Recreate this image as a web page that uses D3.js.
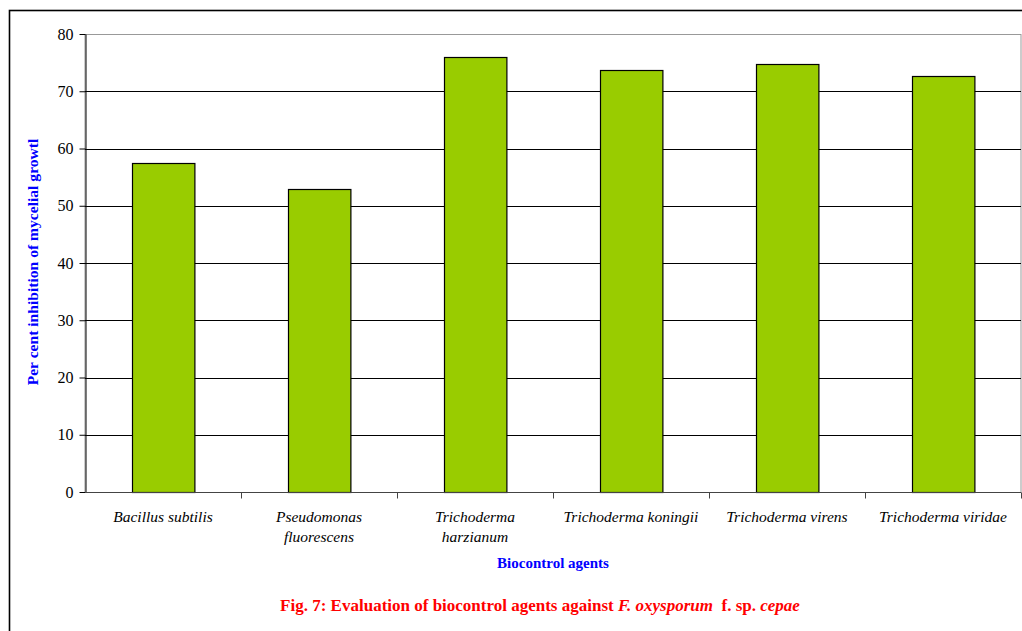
<!DOCTYPE html>
<html>
<head>
<meta charset="utf-8">
<script src="https://cdn.jsdelivr.net/npm/d3@7"></script>
<style>
  html, body { margin: 0; padding: 0; background: #fff; }
  svg { display: block; }
  svg text { font-family: "Liberation Serif", "Times New Roman", Times, "DejaVu Serif", serif; }
</style>
</head>
<body>
<svg id="chart" width="1022" height="631"></svg>
<script>
// Biocontrol agents tested and their per cent inhibition of mycelial growth
const agents = [
  ["Bacillus subtilis"],
  ["Pseudomonas", "fluorescens"],
  ["Trichoderma", "harzianum"],
  ["Trichoderma koningii"],
  ["Trichoderma virens"],
  ["Trichoderma viridae"]
];
const inhibition = [57.5, 52.9, 75.9, 73.7, 74.8, 72.7];
const yTicks = [0, 10, 20, 30, 40, 50, 60, 70, 80];

const svg = d3.select("#chart");
const plot = { left: 85, right: 1021, top: 34, bottom: 492 };

const keys = agents.map(a => a.join(" "));
const x = d3.scaleBand().domain(keys).range([plot.left, plot.right]).paddingInner(0.6).paddingOuter(0.3);
const xCat = d3.scaleBand().domain(keys).range([plot.left, plot.right]);
const y = d3.scaleLinear().domain([0, 80]).range([plot.bottom, plot.top]);

// outer frame
svg.append("rect")
  .attr("x", 9.5).attr("y", 10.5).attr("width", 1030).attr("height", 640)
  .attr("fill", "none").attr("stroke", "#000").attr("stroke-width", 1.6);

// plot frame
svg.append("rect")
  .attr("x", plot.left).attr("y", plot.top + 0.5)
  .attr("width", plot.right - plot.left).attr("height", plot.bottom - plot.top)
  .attr("fill", "none").attr("stroke", "#999").attr("stroke-width", 1);

// horizontal gridlines
svg.append("g").selectAll("line")
  .data(yTicks.filter(t => t > 0 && t < 80))
  .join("line")
  .attr("x1", plot.left).attr("x2", plot.right)
  .attr("y1", d => Math.round(y(d)) + 0.5).attr("y2", d => Math.round(y(d)) + 0.5)
  .attr("stroke", "#000").attr("stroke-width", 1);

// bars
svg.append("g").selectAll("rect")
  .data(inhibition)
  .join("rect")
  .attr("x", (d, i) => Math.round(x(keys[i])) + 0.5)
  .attr("y", d => Math.round(y(d)) + 0.5)
  .attr("width", x.bandwidth())
  .attr("height", d => plot.bottom - Math.round(y(d)))
  .attr("fill", "#99cc00")
  .attr("stroke", "#000").attr("stroke-width", 1.2);

// y axis
const yAxis = svg.append("g")
  .attr("transform", `translate(${plot.left + 0.5},0)`)
  .call(d3.axisLeft(y).tickValues(yTicks).tickSize(6).tickSizeOuter(0).tickPadding(6));
yAxis.attr("font-family", null);
yAxis.select(".domain").attr("stroke", "#000");
yAxis.selectAll(".tick line").attr("stroke", "#000");
yAxis.selectAll(".tick text").attr("font-size", 16).attr("fill", "#000");

// x axis: category separators
const xAxis = svg.append("g")
  .attr("transform", `translate(0,${plot.bottom + 0.5})`);
xAxis.append("line")
  .attr("x1", plot.left).attr("x2", plot.right)
  .attr("stroke", "#444").attr("stroke-width", 1.2);
xAxis.selectAll("line.sep")
  .data(keys.slice(1).concat([null]))
  .join("line").attr("class", "sep")
  .attr("x1", (d, i) => Math.round(i < keys.length - 1 ? xCat(keys[i + 1]) : plot.right) + 0.5)
  .attr("x2", (d, i) => Math.round(i < keys.length - 1 ? xCat(keys[i + 1]) : plot.right) + 0.5)
  .attr("y1", 0).attr("y2", 6)
  .attr("stroke", "#444");

// category labels
const labels = svg.append("g")
  .attr("font-style", "italic")
  .attr("font-size", 15.5).attr("text-anchor", "middle").attr("fill", "#000");
agents.forEach((lines, i) => {
  const cx = xCat(keys[i]) + xCat.bandwidth() / 2;
  lines.forEach((ln, j) => {
    labels.append("text").attr("x", cx).attr("y", 522 + j * 20).text(ln);
  });
});

// axis titles
svg.append("text")
  .attr("transform", "translate(38,262) rotate(-90)")
  .attr("text-anchor", "middle")
  .attr("font-weight", "bold")
  .attr("font-size", 15.6).attr("fill", "#0000ff")
  .text("Per cent inhibition of mycelial growtl");

svg.append("text")
  .attr("x", 553).attr("y", 568)
  .attr("text-anchor", "middle")
  .attr("font-weight", "bold")
  .attr("font-size", 15).attr("fill", "#0000ff")
  .text("Biocontrol agents");

// figure caption
const cap = svg.append("text")
  .attr("x", 540).attr("y", 611)
  .attr("text-anchor", "middle")
  .attr("font-weight", "bold")
  .attr("font-size", 17).attr("fill", "#ff0000");
cap.append("tspan").text("Fig. 7: Evaluation of biocontrol agents against ");
cap.append("tspan").attr("font-style", "italic").text("F. oxysporum");
cap.append("tspan").text("\u00a0\u00a0f. sp. ");
cap.append("tspan").attr("font-style", "italic").text("cepae");
</script>
</body>
</html>
